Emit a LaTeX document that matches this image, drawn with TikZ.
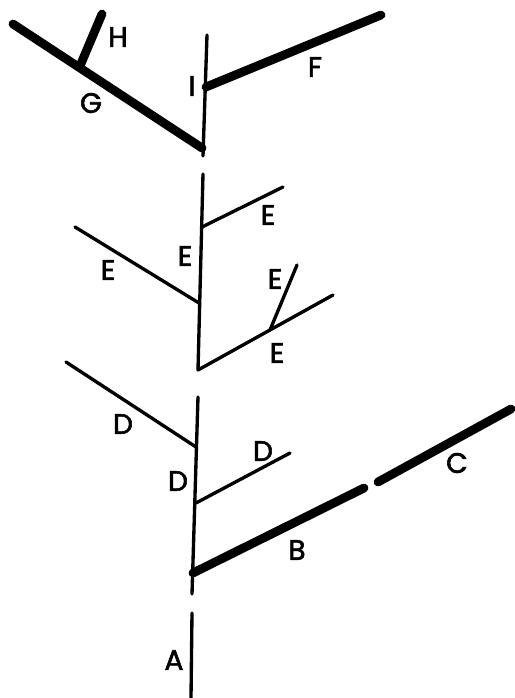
\documentclass[tikz,border=0pt]{standalone}
\usepackage{fontspec}
\setmainfont{Poppins}
\usetikzlibrary{calc}
\tikzset{
  every picture/.style={x=0.02cm, y=-0.02cm, font=\fontsize{16}{19}\selectfont\addfontfeature{FakeBold=2}},
  twig/.style={draw=black, line width=1.9pt, line cap=round},
  limb/.style={draw=black, line width=5pt, line cap=round},
  tag/.style={inner sep=0pt, anchor=center},
}

\begin{document}
\begin{tikzpicture}
  \useasboundingbox (0,0) rectangle (515,698);
  % top part: I, F, G, H
  \coordinate (iTop) at (207,35);
  \coordinate (iBot) at (203,156);
  \coordinate (fRoot) at (206,87);
  \coordinate (fEnd) at (381,15);
  \coordinate (gEnd) at (13,24);
  \coordinate (gRoot) at (202,148);
  \coordinate (hRoot) at (80,66);
  \coordinate (hEnd) at (102,14);
  \draw[twig] (iTop) -- (iBot);
  \draw[limb] (fRoot) -- (fEnd);
  \draw[limb] (gEnd) -- (gRoot);
  \draw[limb] (hRoot) -- (hEnd);
  \node[tag] (lH) at (118,37) {H};
  \node[tag] (lG) at (91,103) {G};
  \node[tag] (lI) at (192,86) {I};
  \node[tag] (lF) at (315,67) {F};
  % middle part: E
  \coordinate (eTop) at (203,174);
  \coordinate (eBot) at (198,370);
  \coordinate (eaRoot) at (202,227);
  \coordinate (eaEnd) at (283,187);
  \coordinate (ebEnd) at (75,227);
  \coordinate (ebRoot) at (199,303);
  \coordinate (ecEnd) at (333,295);
  \coordinate (edRoot) at (270,330);
  \coordinate (edEnd) at (297,265);
  \draw[twig] (eTop) -- (eBot);
  \draw[twig] (eaRoot) -- (eaEnd);
  \draw[twig] (ebEnd) -- (ebRoot);
  \draw[twig] (eBot) -- (ecEnd);
  \draw[twig] (edRoot) -- (edEnd);
  \foreach \x/\y [count=\i] in {268/215, 108/270, 185/256, 275/279, 277/353}
    { \node[tag] (lE\i) at (\x,\y) {E}; }
  % lower part: D, B, C
  \coordinate (dTop) at (198,397);
  \coordinate (dBot) at (192,594);
  \coordinate (daEnd) at (66,362);
  \coordinate (daRoot) at (196,447);
  \coordinate (dbRoot) at (196,503);
  \coordinate (dbEnd) at (290,453);
  \coordinate (bRoot) at (193,573);
  \coordinate (bEnd) at (364,488);
  \coordinate (cStart) at (378,482);
  \coordinate (cEnd) at (511,409);
  \draw[twig] (dTop) -- (dBot);
  \draw[twig] (daEnd) -- (daRoot);
  \draw[twig] (dbRoot) -- (dbEnd);
  \draw[limb] (bRoot) -- (bEnd);
  \draw[limb] (cStart) -- (cEnd);
  \foreach \x/\y [count=\i] in {123/424, 178/481, 263/451}
    { \node[tag] (lD\i) at (\x,\y) {D}; }
  \node[tag] (lB) at (297,550) {B};
  \node[tag] (lC) at (457,463) {C};
  % bottom: A
  \coordinate (aTop) at (192,613);
  \coordinate (aBot) at (191,698);
  \draw[twig] (aTop) -- (aBot);
  \node[tag] (lA) at (174,660) {A};
\end{tikzpicture}
\end{document}
